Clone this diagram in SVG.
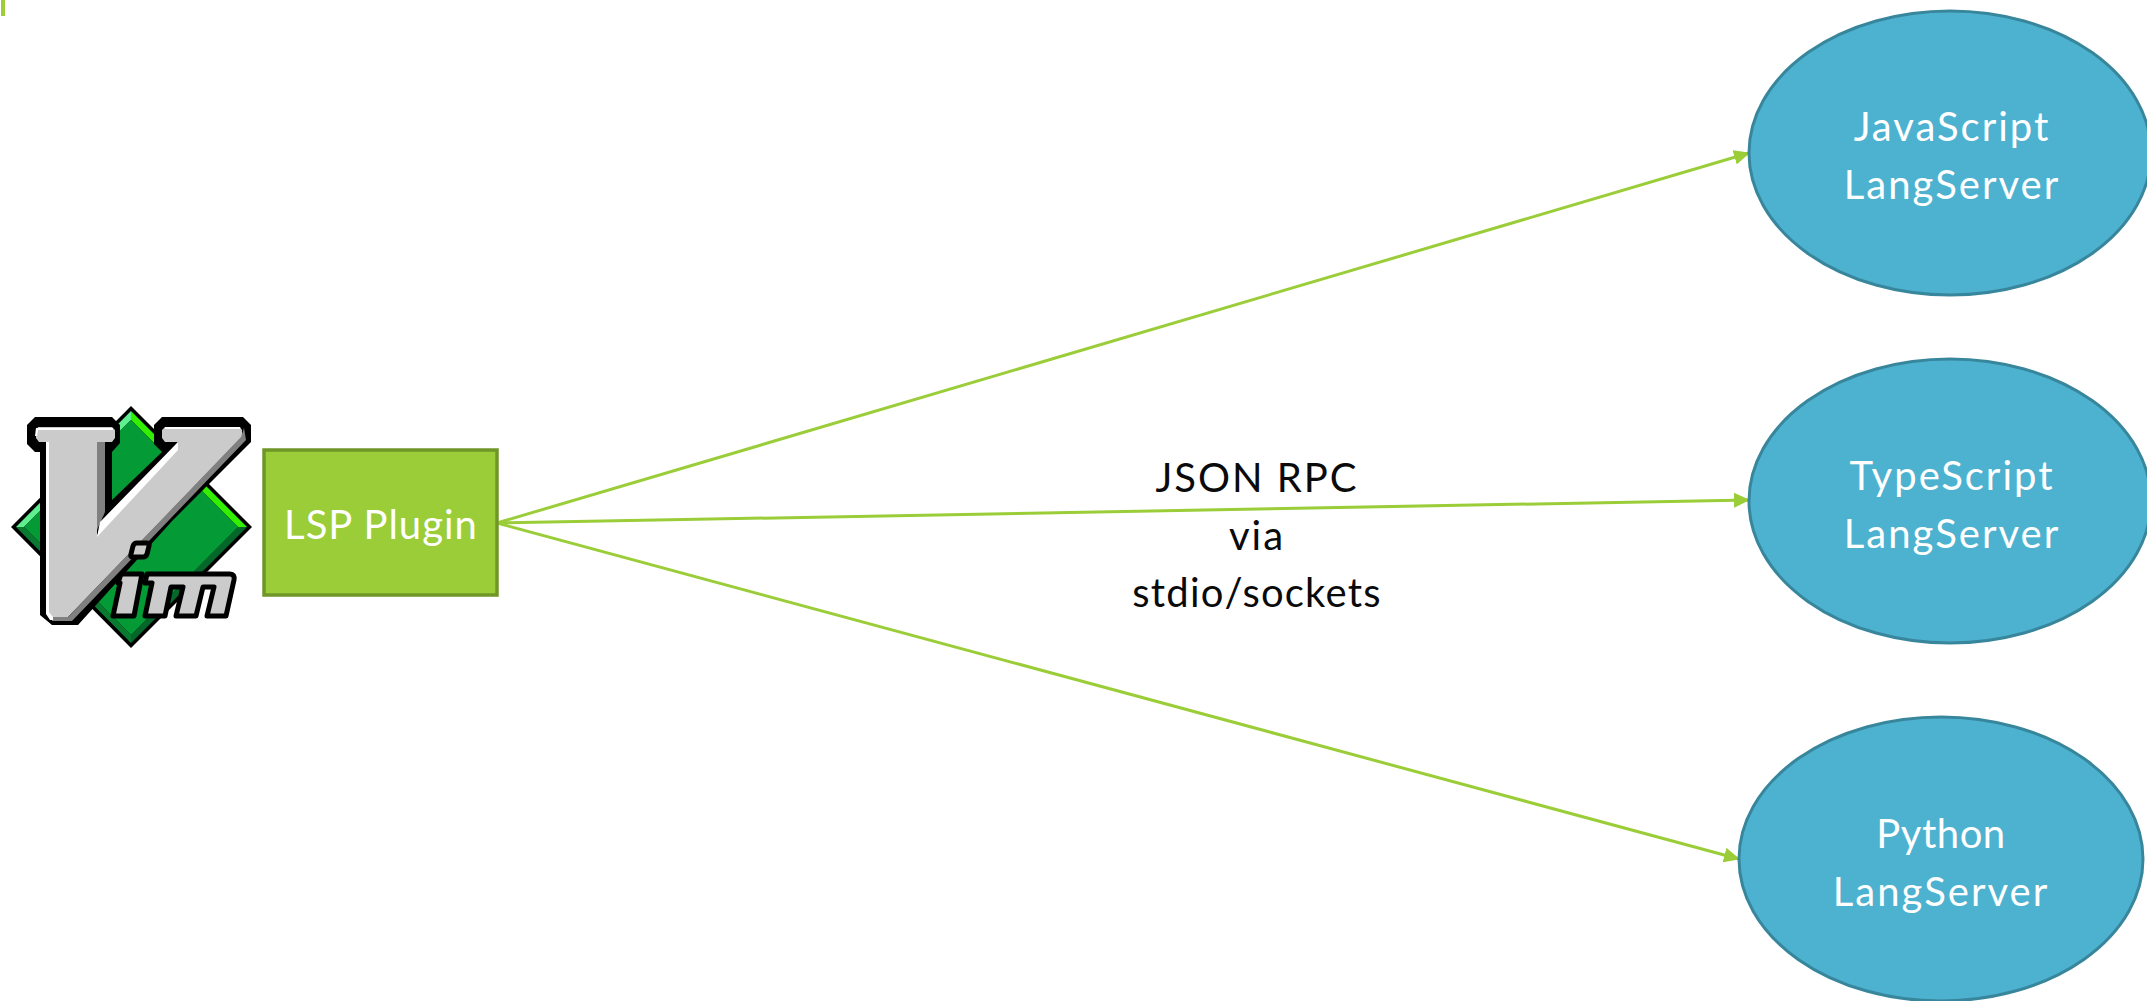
<svg xmlns="http://www.w3.org/2000/svg" width="2147" height="1001" viewBox="0 0 2147 1001">
<style>
.e{fill:#4db2d0;stroke:#38869c;stroke-width:3}
.t{font-family:"Lato","Open Sans",sans-serif;font-size:40px;text-anchor:middle;letter-spacing:2px}
.w{fill:#fff}
.k{fill:#0a0a0a}
.c{stroke:#9acd38;stroke-width:3;fill:none;marker-end:url(#a)}
.l{fill:#cbcbcb;stroke:#000;stroke-width:5;stroke-linejoin:round}
</style>
<defs><marker id="a" markerUnits="userSpaceOnUse" markerWidth="16" markerHeight="15" refX="15" refY="7.5" orient="auto"><path d="M0 0L16 7.5L0 15Z" fill="#9acd38"/></marker></defs>
<rect width="2147" height="1001" fill="#fff"/>
<rect x="1" y="0" width="4" height="16" fill="#9acd38"/>
<g id="connectors">
<line class="c" x1="497" y1="523" x2="1749" y2="153"/>
<line class="c" x1="497" y1="523" x2="1749" y2="500"/>
<line class="c" x1="497" y1="523" x2="1739" y2="859"/>
</g>
<g id="vim">
<path d="M131 406L252 527L131 648L11 527Z" fill="#000"/>
<path d="M131 411L131 420L24 527L16 527Z" fill="#5fef8f"/>
<path d="M131 411L247 527L238 527L131 420Z" fill="#33f000"/>
<path d="M247 527L131 643L131 635L238 527Z" fill="#05682a"/>
<path d="M16 527L131 643L131 635L24 527Z" fill="#0a7a30"/>
<path d="M131 420L238 527L131 635L24 527Z" fill="#049a35"/>
<path d="M35 417L112 417L120 425L120 443L112 452L112 500L162 452L154 444L154 425L162 417L243 417L251 425L251 442L173 520L78 625L52 625L40 615L40 452L35 452L27 444L27 425Z" fill="#000"/>
<path d="M36 432L38 427H112L115 430V438L112 442H97V535L178 442H165L162 438V430L165 427H240L242 430V437L68 617H52L48 612V442H39L36 438Z" fill="#cbcbcb"/>
<path d="M97 442H105V512L97 530Z" fill="#808080"/>
<path d="M178 442L178 450L97 537L100 522Z" fill="#fff"/>
<path d="M244 428L246 440L72 621H52V617H68L241 437Z" fill="#808080"/>
<path d="M46 442H49V612L53 617V620H50L46 614Z" fill="#fff"/>
<path d="M36 428H113V430H38L37 436H35Z" fill="#fff"/>
<path d="M165 427H240V429H165Z" fill="#fff"/>
<path class="l" d="M133 546Q134 543 137 543H147Q150 543 149 546L147 554Q146 557 143 557H133Q130 557 131 554Z"/>
<path class="l" d="M121 574H142L134 616H113L120 583H118Z"/>
<path class="l" d="M147 574H230Q235 574 234 580L226 616H207L214 587H203L196 616H176L183 587H171L165 616H145L152 583H145Z"/>
</g>
<g id="plugin">
<rect x="264" y="450" width="233" height="145" fill="#9acd38" stroke="#6f9627" stroke-width="3.5"/>
<text class="t w" x="381" y="539" style="letter-spacing:1px">LSP Plugin</text>
</g>
<g id="js">
<ellipse class="e" cx="1950" cy="153" rx="201" ry="142"/>
<text class="t w" x="1952" y="141">JavaScript</text><text class="t w" x="1952" y="199">LangServer</text>
</g>
<g id="ts">
<ellipse class="e" cx="1950" cy="501" rx="201" ry="142"/>
<text class="t w" x="1952" y="490">TypeScript</text><text class="t w" x="1952" y="548">LangServer</text>
</g>
<g id="py">
<ellipse class="e" cx="1941" cy="859" rx="202" ry="142"/>
<text class="t w" x="1941" y="848" style="letter-spacing:.5px">Python</text><text class="t w" x="1941" y="906">LangServer</text>
</g>
<g id="label">
<text class="t k" x="1257" y="492">JSON RPC</text>
<text class="t k" x="1257" y="550">via</text>
<text class="t k" x="1257" y="607" style="letter-spacing:1.2px">stdio/sockets</text>
</g>
</svg>
